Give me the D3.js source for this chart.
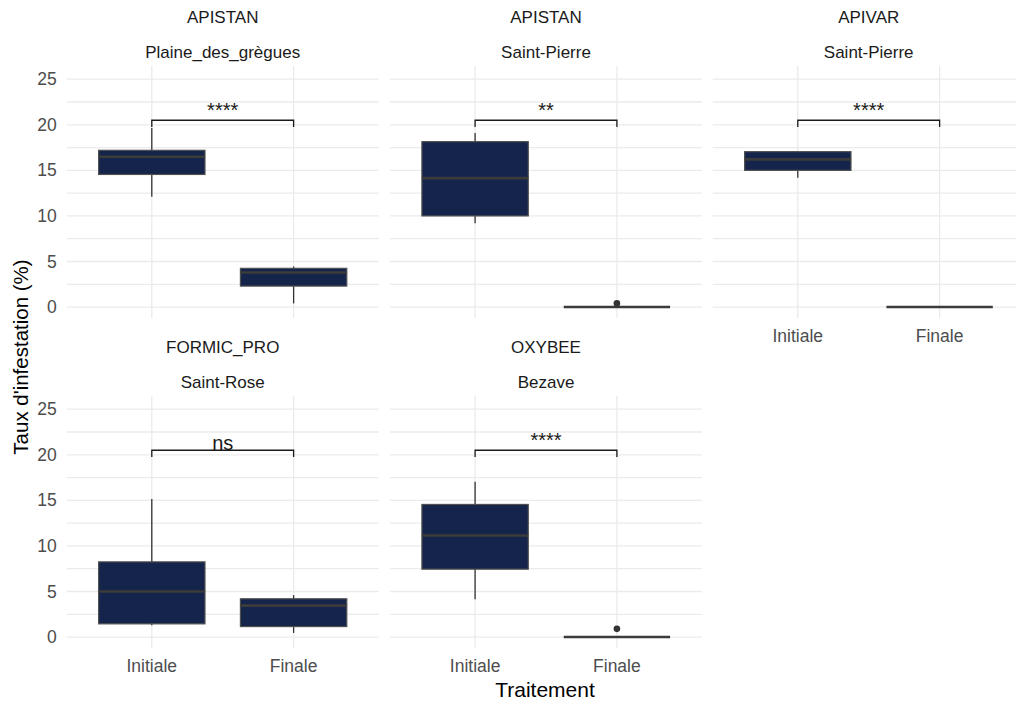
<!doctype html>
<html lang="fr">
<head>
<meta charset="utf-8">
<title>Taux d'infestation</title>
<script src="https://cdn.jsdelivr.net/npm/d3@7"></script>
<style>
    body { margin: 0; background: #fff; }
    svg { display: block; font-family: "Liberation Sans", Arial, sans-serif; }
    .grid line { stroke: #ebebeb; stroke-width: 1.3; }
    .tick-lab { fill: #4d4d4d; font-size: 17.5px; }
    .strip { fill: #1a1a1a; font-size: 17px; }
</style>
</head>
<body>
<svg id="chart"></svg>
<script>
    // facets
    const treatments = ["APISTAN", "APISTAN", "APIVAR", "FORMIC_PRO", "OXYBEE"];
    const sites = ["Plaine_des_grègues", "Saint-Pierre", "Saint-Pierre", "Saint-Rose", "Bezave"];
    const groups = ["Initiale", "Finale"];

    // [lower whisker, q1, median, q3, upper whisker]
    const initialeStats = [
        [12.1, 14.55, 16.5, 17.2, 19.65],
        [9.2, 10.0, 14.15, 18.15, 19.1],
        [14.2, 15.0, 16.2, 17.05, 17.05],
        [1.3, 1.45, 5.0, 8.25, 15.15],
        [4.15, 7.45, 11.15, 14.55, 17.05]
    ];
    const finaleStats = [
        [0.4, 2.3, 3.8, 4.25, 4.45],
        [0, 0, 0, 0, 0],
        [0, 0, 0, 0, 0],
        [0.45, 1.15, 3.45, 4.2, 4.6],
        [0, 0, 0, 0, 0]
    ];
    const finaleOutliers = [[], [0.4], [], [], [0.9]];
    const signif = ["****", "**", "****", "ns", "****"];
    const bracketY = 20.5, bracketTip = 19.75;
    const yTicks = [0, 5, 10, 15, 20, 25];
    const yMinor = [2.5, 7.5, 12.5, 17.5, 22.5];

    const W = 1016, H = 706;
    const svg = d3.select("#chart").attr("width", W).attr("height", H);

    const panelW = 312;
    const colX = [66.7, 390, 712.7];
    const rowY = [0, 330];   // offset of each row
    const panelTop = 66, panelBot = 318;

    const y = d3.scaleLinear().domain([-1.2, 26.45]).range([panelBot, panelTop]);
    const boxColor = "#15244a";

    treatments.forEach(function (t, i) {
        const col = i % 3, row = Math.floor(i / 3);
        const x0 = colX[col], oy = rowY[row];
        const x = d3.scalePoint().domain(groups).range([0, panelW]).padding(0.6);
        const bw = x.step() * 0.75;

        const g = svg.append("g").attr("transform", `translate(${x0},${oy})`);

        // grid
        const grid = g.append("g").attr("class", "grid");
        grid.selectAll(".minor").data(yMinor).join("line")
            .attr("x1", 0).attr("x2", panelW)
            .attr("y1", d => y(d)).attr("y2", d => y(d));
        grid.selectAll(".major").data(yTicks).join("line")
            .attr("x1", 0).attr("x2", panelW)
            .attr("y1", d => y(d)).attr("y2", d => y(d));
        grid.selectAll(".vx").data(groups).join("line")
            .attr("x1", d => x(d)).attr("x2", d => x(d))
            .attr("y1", panelTop).attr("y2", panelBot);

        // strip labels
        g.append("text").attr("class", "strip").attr("x", panelW / 2).attr("y", 23)
            .attr("text-anchor", "middle").text(t);
        g.append("text").attr("class", "strip").attr("x", panelW / 2).attr("y", 58)
            .attr("text-anchor", "middle").text(sites[i]);

        // boxplots
        const stats = [initialeStats[i], finaleStats[i]];
        groups.forEach(function (grp, k) {
            const s = stats[k], cx = x(grp);
            g.append("line")
                .attr("x1", cx).attr("x2", cx)
                .attr("y1", y(s[0])).attr("y2", y(s[4]))
                .attr("stroke", "#333").attr("stroke-width", 1.3);
            g.append("rect")
                .attr("x", cx - bw / 2).attr("width", bw)
                .attr("y", y(s[3])).attr("height", Math.max(0, y(s[1]) - y(s[3])))
                .attr("fill", boxColor).attr("stroke", "#505050").attr("stroke-width", 1.2);
            g.append("line")
                .attr("x1", cx - bw / 2).attr("x2", cx + bw / 2)
                .attr("y1", y(s[2])).attr("y2", y(s[2]))
                .attr("stroke", "#3b3b3b").attr("stroke-width", 2.6);
        });
        g.selectAll(".out").data(finaleOutliers[i]).join("circle")
            .attr("cx", x("Finale")).attr("cy", d => y(d)).attr("r", 3.3)
            .attr("fill", "#333");

        // significance bracket
        g.append("path")
            .attr("d", `M${x("Initiale")},${y(bracketTip)}V${y(bracketY)}H${x("Finale")}V${y(bracketTip)}`)
            .attr("fill", "none").attr("stroke", "#1a1a1a").attr("stroke-width", 1.3);
        g.append("text")
            .attr("x", (x("Initiale") + x("Finale")) / 2)
            .attr("y", signif[i] === "ns" ? y(bracketY) - 0.5 : y(bracketY) - 3)
            .attr("text-anchor", "middle").attr("fill", "#1a1a1a")
            .style("font-size", "20px").text(signif[i]);

        // y tick labels on left column
        if (col === 0) {
            g.selectAll(".yt").data(yTicks).join("text")
                .attr("class", "tick-lab")
                .attr("x", -10).attr("y", d => y(d)).attr("dy", "0.35em")
                .attr("text-anchor", "end").text(d => d);
        }
        // x tick labels on bottom-most panels
        if (row === 1 || col === 2) {
            g.selectAll(".xt").data(groups).join("text")
                .attr("class", "tick-lab")
                .attr("x", d => x(d)).attr("y", panelBot + 18).attr("dy", "0.35em")
                .attr("text-anchor", "middle").text(d => d);
        }
    });

    // axis titles
    svg.append("text")
        .attr("transform", "translate(28,357) rotate(-90)")
        .attr("text-anchor", "middle").style("font-size", "20.5px").attr("fill", "#000")
        .text("Taux d'infestation (%)");
    svg.append("text")
        .attr("x", 545).attr("y", 697)
        .attr("text-anchor", "middle").style("font-size", "21px").attr("fill", "#000")
        .text("Traitement");
</script>
</body>
</html>
